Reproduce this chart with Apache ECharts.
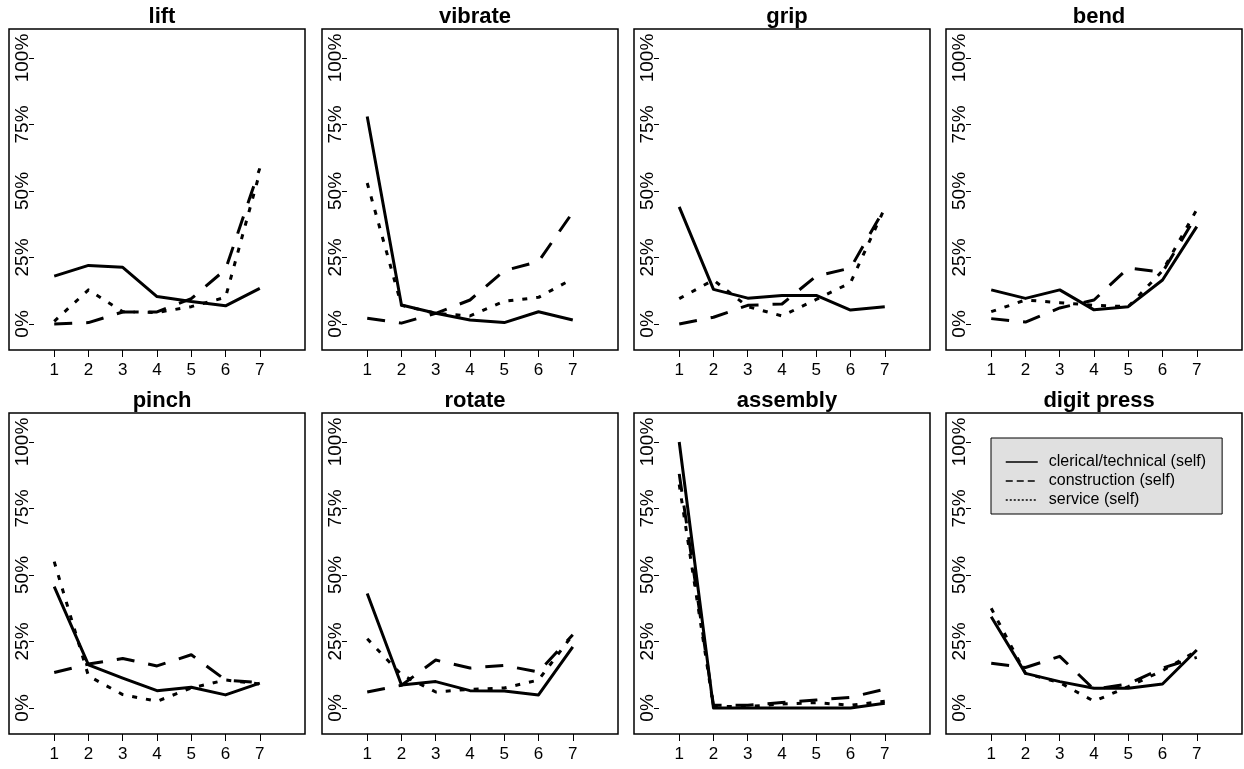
<!DOCTYPE html>
<html>
<head>
<meta charset="utf-8">
<script src="https://cdn.jsdelivr.net/npm/echarts@6/dist/echarts.min.js"></script>
<style>
  html, body { margin: 0; padding: 0; background: #fff; }
  #chart { width: 1244px; height: 769px; }
</style>
</head>
<body>
<div id="chart"></div>
<script>
// x positions (ratings 1..7) and y tick values (percent)
const xValues = [1, 2, 3, 4, 5, 6, 7];
const yTicks = [0, 25, 50, 75, 100];
const panelTitles = ['lift', 'vibrate', 'grip', 'bend', 'pinch', 'rotate', 'assembly', 'digit press'];
const seriesNames = ['clerical/technical (self)', 'construction (self)', 'service (self)'];

// percent of respondents, one row per panel
const clerical = [
  [18, 22, 21.3, 10.3, 8.4, 6.8, 13.4],
  [78, 7.1, 4, 1.5, 0.5, 4.6, 1.5],
  [44, 13, 9.7, 10.7, 10.7, 5.2, 6.5],
  [12.8, 9.6, 12.8, 5.3, 6.5, 16.5, 36.6],
  [45.6, 16.2, 11.2, 6.5, 7.8, 4.9, 9.3],
  [43, 8.6, 9.9, 6.5, 6.4, 4.9, 23],
  [100, 0, 0, 0, 0, 0, 1.8],
  [34.3, 13, 9.9, 7.4, 7.4, 9, 21.8]
];
const construction = [
  [0, 0.5, 4.5, 4.5, 9.5, 20.5, 58.5],
  [2.1, 0.3, 4, 9, 20, 23.5, 42],
  [0, 2.5, 7, 7.5, 18, 21, 43.6],
  [2, 0.7, 6, 9, 21, 19.5, 41],
  [13.3, 16.5, 18.6, 15.8, 20, 10.5, 9.5],
  [6, 8.5, 18, 15, 16, 13.5, 27.5],
  [88, 1, 1, 2, 3, 4, 7],
  [16.8, 15.2, 19.4, 7, 9, 15, 19]
];
const service = [
  [1, 12.8, 4.6, 4.3, 6.5, 10, 57],
  [53, 7, 4, 3, 8.5, 10, 17],
  [9.5, 16.5, 6.5, 3, 9.2, 15.5, 43.6],
  [4.6, 9, 8, 7, 6.5, 20, 43],
  [55, 12, 5, 2.5, 7.5, 10.5, 9],
  [26, 12.5, 6, 7, 7.5, 10.5, 27.5],
  [84, 0.5, 0.5, 1.5, 2, 1, 2.5],
  [37.5, 13, 9.5, 2.5, 8, 14, 21.5]
];

const colLefts = [9, 322, 634, 946];
const rowTops = [29, 413];
const boxW = 296, boxH = 321;
const font = 'Liberation Sans, Arial, sans-serif';

const lineTypes = ['solid', [18, 14], [5, 9]];
const dataSets = [clerical, construction, service];

const grids = [], xAxes = [], yAxes = [], titles = [], series = [];

panelTitles.forEach((name, i) => {
  const left = colLefts[i % 4];
  const top = rowTops[Math.floor(i / 4)];
  grids.push({
    left: left, top: top, width: boxW, height: boxH,
    show: true, borderColor: '#000', borderWidth: 1.5, backgroundColor: '#fff'
  });
  titles.push({
    text: name,
    left: left + boxW / 2,
    top: top - 28,
    textAlign: 'center',
    textStyle: { fontSize: 22, fontWeight: 'bold', fontFamily: font, color: '#000' }
  });
  xAxes.push({
    gridIndex: i, type: 'value', min: -0.32, max: 8.32,
    splitLine: { show: false },
    axisLine: { show: false, onZero: false },
    axisTick: { show: true, length: 7, customValues: xValues, lineStyle: { color: '#000', width: 1 } },
    axisLabel: { customValues: xValues, margin: 12, fontSize: 17, fontFamily: font, color: '#000' }
  });
  yAxes.push({
    gridIndex: i, type: 'value', min: -9.8, max: 110.9,
    offset: -25,
    splitLine: { show: false },
    axisLine: { show: false, onZero: false },
    axisTick: { show: true, length: 5, customValues: yTicks, lineStyle: { color: '#000', width: 1 } },
    axisLabel: {
      customValues: yTicks, rotate: 90, margin: 2, fontSize: 19, fontFamily: font, color: '#000',
      formatter: v => v + '%'
    }
  });
  dataSets.forEach((set, k) => {
    series.push({
      name: seriesNames[k],
      type: 'line',
      xAxisIndex: i,
      yAxisIndex: i,
      symbol: 'none',
      silent: true,
      data: xValues.map((x, j) => [x, set[i][j]]),
      lineStyle: { color: '#000', width: 3, type: lineTypes[k], join: 'round' }
    });
  });
});

const chart = echarts.init(document.getElementById('chart'), null, { renderer: 'canvas' });
chart.setOption({
  animation: false,
  backgroundColor: '#fff',
  title: titles,
  grid: grids,
  xAxis: xAxes,
  yAxis: yAxes,
  legend: {
    left: 991, top: 438, orient: 'vertical',
    selectedMode: false,
    backgroundColor: '#e0e0e0', borderColor: '#000', borderWidth: 1,
    borderRadius: 0,
    padding: [16, 16, 6, 14],
    itemWidth: 32, itemHeight: 10, itemGap: 3,
    itemStyle: { color: 'rgba(0,0,0,0)', borderWidth: 0, opacity: 0 },
    textStyle: { fontSize: 16, fontFamily: font, color: '#000', lineHeight: 16, padding: [0, 0, 0, 6] },
    data: [
      { name: seriesNames[0], lineStyle: { width: 1.5, type: 'solid', color: '#000' } },
      { name: seriesNames[1], lineStyle: { width: 1.5, type: [7, 4], color: '#000' } },
      { name: seriesNames[2], lineStyle: { width: 1.5, type: [2, 2], color: '#000' } }
    ]
  },
  series: series
});
</script>
</body>
</html>
